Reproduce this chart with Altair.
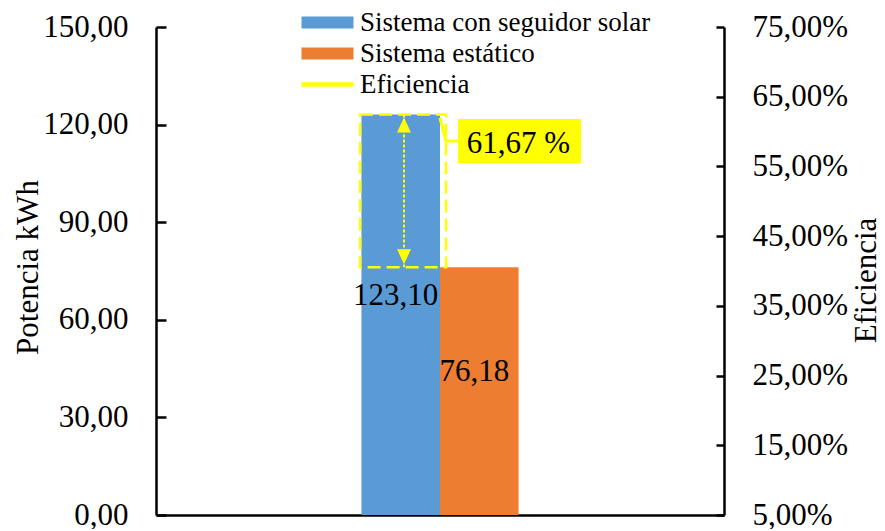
import altair as alt
import pandas as pd

# ---- data ----
grupo = "Potencia"
series = ["Sistema con seguidor solar", "Sistema estático"]
potencia = [123.10, 76.18]
bar_labels = ["123,10", "76,18"]
legend_items = ["Sistema con seguidor solar", "Sistema estático", "Eficiencia"]
colors = ["#5B9BD5", "#ED7D31", "#FFFF00"]
eficiencia = [61.67]
eficiencia_label = ["61,67 %"]
left_ticks = [0, 30, 60, 90, 120, 150]
right_ticks = [5, 15, 25, 35, 45, 55, 65, 75]

FONT = "Liberation Serif"
YELLOW = "#FFFF00"

bars_df = pd.DataFrame({"grupo": grupo, "serie": series, "potencia": potencia, "etiqueta": bar_labels})
diff_df = pd.DataFrame({"grupo": [grupo], "alto": [potencia[0]], "bajo": [potencia[1]]})
eff_df = pd.DataFrame({"grupo": [grupo], "ef": eficiencia, "etiqueta": eficiencia_label})
leg_df = pd.DataFrame({"serie": legend_items})

# ---- shapes (custom symbol paths) ----
rect_path = "M-2,-0.46 L2,-0.46 L2,0.46 L-2,0.46 Z"
line_path = "M-2,-0.173 L2,-0.173 L2,0.173 L-2,0.173 Z"
tri_up = "M0,-1 L0.93,1 L-0.93,1 Z"
tri_down = "M0,1 L0.93,-1 L-0.93,-1 Z"
box_path = "M-1,-0.358 L1,-0.358 L1,0.358 L-1,0.358 Z"
conn_path = "M-0.994,-0.2875 L-0.919,0 L-0.769,0"

x_enc = alt.X(
    "grupo:N",
    scale=alt.Scale(paddingInner=0.235, paddingOuter=1),
    axis=alt.Axis(title=None, labels=False, ticks=False, domain=True,
                  domainColor="black", domainWidth=2.5, grid=False),
)
xo_enc = alt.XOffset("serie:N", scale=alt.Scale(domain=series, paddingInner=0, paddingOuter=0))

left_scale = alt.Scale(domain=[0, 150], nice=False, zero=True)
left_axis = alt.Axis(
    values=left_ticks,
    labelExpr="replace(format(datum.value, '.2f'), '.', ',')",
    title="Potencia kWh", titleFont=FONT, titleFontSize=31, titleFontWeight="normal",
    titleColor="black", titleAngle=270, titleX=-128, titleY=240,
    titleAlign="center", titleBaseline="middle",
    labelFont=FONT, labelFontSize=31, labelColor="black", labelPadding=38,
    labelBaseline="middle",
    tickSize=alt.ExprRef(expr="-10"), tickColor="black", tickWidth=2.5,
    domainColor="black", domainWidth=2.5, grid=False,
)
right_scale = alt.Scale(domain=[5, 75], nice=False, zero=False)
right_axis = alt.Axis(
    orient="right",
    values=right_ticks,
    labelExpr="replace(format(datum.value, '.2f'), '.', ',') + '%'",
    title="Eficiencia", titleFont=FONT, titleFontSize=31, titleFontWeight="normal",
    titleColor="black", titleAngle=270, titleX=151, titleY=253,
    titleAlign="center", titleBaseline="alphabetic",
    labelFont=FONT, labelFontSize=31, labelColor="black", labelPadding=36,
    labelBaseline="middle",
    tickSize=alt.ExprRef(expr="-8"), tickColor="black", tickWidth=2.5,
    domainColor="black", domainWidth=2.5, grid=False,
)

color_scale = alt.Scale(domain=legend_items, range=colors)
shape_scale = alt.Scale(domain=legend_items, range=[rect_path, rect_path, line_path])
legend = alt.Legend(
    title=None, orient="none", legendX=145, legendY=-18,
    labelFont=FONT, labelFontSize=27, labelColor="black", labelLimit=500,
    symbolOpacity=1, symbolStrokeWidth=0, symbolSize=676, symbolOffset=13,
    labelOffset=19, rowPadding=3, padding=0,
)

bars = alt.Chart(bars_df).mark_bar(strokeWidth=0).encode(
    x=x_enc, xOffset=xo_enc,
    y=alt.Y("potencia:Q", scale=left_scale, axis=left_axis),
    color=alt.Color("serie:N", scale=color_scale, legend=legend),
)

leg = alt.Chart(leg_df).mark_point(opacity=0, filled=True).encode(
    color=alt.Color("serie:N", scale=color_scale, legend=legend),
    shape=alt.Shape("serie:N", scale=shape_scale, legend=legend),
)

# dashed box marking the difference between both systems
diff_rect = alt.Chart(diff_df).mark_bar(
    fillOpacity=0, stroke=YELLOW, strokeWidth=2.5, strokeDash=[13, 6], width=86, xOffset=-37
).encode(
    x=x_enc,
    y=alt.Y("alto:Q", scale=left_scale, axis=left_axis),
    y2="bajo:Q",
)

arrow_line = alt.Chart(diff_df).mark_rule(
    stroke=YELLOW, strokeWidth=2, strokeDash=[3, 2], xOffset=-36
).encode(
    x=x_enc,
    y=alt.Y("alto:Q", scale=left_scale, axis=left_axis),
    y2="bajo:Q",
)

arrow_top = alt.Chart(diff_df).mark_point(
    shape=tri_up, size=225, filled=True, fill=YELLOW, opacity=1, strokeWidth=0,
    xOffset=-36, yOffset=10.5,
).encode(x=x_enc, y=alt.Y("alto:Q", scale=left_scale, axis=left_axis))

arrow_bot = alt.Chart(diff_df).mark_point(
    shape=tri_down, size=225, filled=True, fill=YELLOW, opacity=1, strokeWidth=0,
    xOffset=-36, yOffset=-10.5,
).encode(x=x_enc, y=alt.Y("bajo:Q", scale=left_scale, axis=left_axis))

bar_text = alt.Chart(bars_df).transform_calculate(
    mitad="datum.potencia / 2"
).mark_text(font=FONT, fontSize=31, color="black", dx=-5, dy=-19, baseline="middle").encode(
    x=x_enc, xOffset=xo_enc,
    y=alt.Y("mitad:Q", scale=left_scale, axis=left_axis),
    text="etiqueta:N",
)

ef_y = alt.Y("ef:Q", scale=right_scale, axis=right_axis)

conn = alt.Chart(eff_df).mark_point(
    shape=conn_path, size=25600, filled=False, stroke=YELLOW, strokeWidth=3, opacity=1,
    xOffset=79.5, yOffset=21,
).encode(x=x_enc, y=ef_y)

box = alt.Chart(eff_df).mark_point(
    shape=box_path, size=15129, filled=True, fill=YELLOW, opacity=1, strokeWidth=0,
    xOffset=79.5, yOffset=21,
).encode(x=x_enc, y=ef_y)

ef_text = alt.Chart(eff_df).mark_text(
    font=FONT, fontSize=31, color="black", dx=78.5, dy=33, baseline="alphabetic"
).encode(x=x_enc, y=ef_y, text="etiqueta:N")

left = alt.layer(bars, diff_rect, arrow_line, arrow_top, arrow_bot, bar_text, leg)
right = alt.layer(conn, box, ef_text)

chart = (
    alt.layer(left, right)
    .resolve_scale(y="independent")
    .properties(
        width=568, height=488,
        padding={"left": 148, "top": 19, "right": 153, "bottom": 14},
        autosize=alt.AutoSizeParams(type="none"),
    )
    .configure(font=FONT)
    .configure_view(strokeWidth=0)
)

chart.save("out.html", embed_options={"renderer": "svg", "actions": False})
